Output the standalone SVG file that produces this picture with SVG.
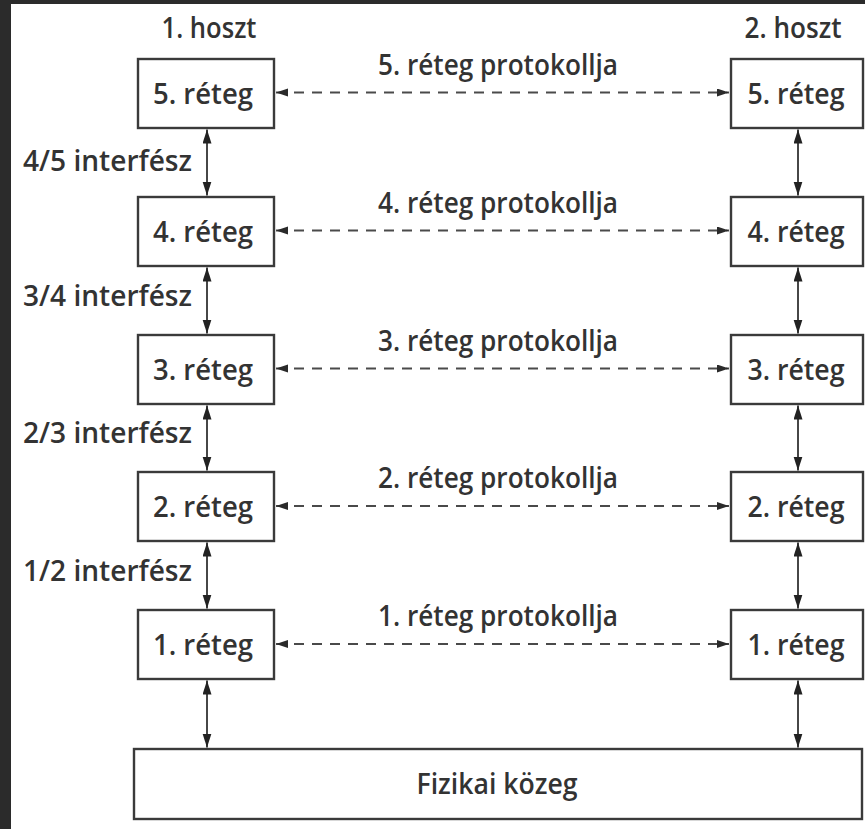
<svg xmlns="http://www.w3.org/2000/svg" width="865" height="829" viewBox="0 0 865 829">
<style>
.bx{fill:#fff;stroke:#3a3a3a;stroke-width:2.4}
.t{font-family:"Open Sans","Noto Sans","Liberation Sans",sans-serif;font-size:28px;font-weight:600;fill:#333}
.m{text-anchor:middle}
.v{stroke:#333;stroke-width:1.8;fill:none}
.d{stroke:#4a4a4a;stroke-width:2.2;stroke-dasharray:10 8;fill:none}
</style>
<defs>
<marker id="av" markerUnits="userSpaceOnUse" markerWidth="15" markerHeight="10" refX="14" refY="4.5" orient="auto-start-reverse">
<path d="M0,0 L14,4.5 L0,9 z" fill="#222"/>
</marker>
<marker id="ad" markerUnits="userSpaceOnUse" markerWidth="13" markerHeight="9" refX="12" refY="4" orient="auto-start-reverse">
<path d="M0,0 L12,4 L0,8 z" fill="#2a2a2a"/>
</marker>
</defs>
<rect x="0" y="0" width="865" height="829" fill="#2b2b2b"/>
<rect x="11" y="4" width="854" height="825" fill="#fff"/>

<g id="labels">
<text class="t m" x="209" y="38" textLength="95" lengthAdjust="spacingAndGlyphs">1. hoszt</text>
<text class="t m" x="793" y="38" textLength="97" lengthAdjust="spacingAndGlyphs">2. hoszt</text>
<text class="t" x="23" y="171" textLength="169" lengthAdjust="spacingAndGlyphs">4/5 interfész</text>
<text class="t" x="23" y="306" textLength="169" lengthAdjust="spacingAndGlyphs">3/4 interfész</text>
<text class="t" x="23" y="443" textLength="169" lengthAdjust="spacingAndGlyphs">2/3 interfész</text>
<text class="t" x="23" y="581" textLength="169" lengthAdjust="spacingAndGlyphs">1/2 interfész</text>
<text class="t m" x="498" y="75" textLength="240" lengthAdjust="spacingAndGlyphs">5. réteg protokollja</text>
<text class="t m" x="498" y="213" textLength="240" lengthAdjust="spacingAndGlyphs">4. réteg protokollja</text>
<text class="t m" x="498" y="351" textLength="240" lengthAdjust="spacingAndGlyphs">3. réteg protokollja</text>
<text class="t m" x="498" y="488" textLength="240" lengthAdjust="spacingAndGlyphs">2. réteg protokollja</text>
<text class="t m" x="498" y="626" textLength="240" lengthAdjust="spacingAndGlyphs">1. réteg protokollja</text>
</g>

<g id="h1-l5"><rect class="bx" x="138" y="59" width="136" height="69"/><text class="t m" x="203" y="104" textLength="100" lengthAdjust="spacingAndGlyphs">5. réteg</text></g>
<g id="h1-l4"><rect class="bx" x="138" y="197" width="136" height="69"/><text class="t m" x="203" y="242" textLength="100" lengthAdjust="spacingAndGlyphs">4. réteg</text></g>
<g id="h1-l3"><rect class="bx" x="138" y="335" width="136" height="69"/><text class="t m" x="203" y="380" textLength="100" lengthAdjust="spacingAndGlyphs">3. réteg</text></g>
<g id="h1-l2"><rect class="bx" x="138" y="472" width="136" height="69"/><text class="t m" x="203" y="517" textLength="100" lengthAdjust="spacingAndGlyphs">2. réteg</text></g>
<g id="h1-l1"><rect class="bx" x="138" y="610" width="136" height="69"/><text class="t m" x="203" y="655" textLength="100" lengthAdjust="spacingAndGlyphs">1. réteg</text></g>

<g id="h2-l5"><rect class="bx" x="731" y="59" width="132" height="69"/><text class="t m" x="796" y="104" textLength="97" lengthAdjust="spacingAndGlyphs">5. réteg</text></g>
<g id="h2-l4"><rect class="bx" x="731" y="197" width="132" height="69"/><text class="t m" x="796" y="242" textLength="97" lengthAdjust="spacingAndGlyphs">4. réteg</text></g>
<g id="h2-l3"><rect class="bx" x="731" y="335" width="132" height="69"/><text class="t m" x="796" y="380" textLength="97" lengthAdjust="spacingAndGlyphs">3. réteg</text></g>
<g id="h2-l2"><rect class="bx" x="731" y="472" width="132" height="69"/><text class="t m" x="796" y="517" textLength="97" lengthAdjust="spacingAndGlyphs">2. réteg</text></g>
<g id="h2-l1"><rect class="bx" x="731" y="610" width="132" height="69"/><text class="t m" x="796" y="655" textLength="97" lengthAdjust="spacingAndGlyphs">1. réteg</text></g>

<g id="medium"><rect class="bx" x="134" y="749" width="728" height="70"/><text class="t m" x="497" y="794" textLength="161" lengthAdjust="spacingAndGlyphs">Fizikai közeg</text></g>

<g id="connectors">
<line class="v" x1="207" y1="129.5" x2="207" y2="195.5" marker-start="url(#av)" marker-end="url(#av)"/>
<line class="v" x1="207" y1="267.5" x2="207" y2="333.5" marker-start="url(#av)" marker-end="url(#av)"/>
<line class="v" x1="207" y1="405.5" x2="207" y2="470.5" marker-start="url(#av)" marker-end="url(#av)"/>
<line class="v" x1="207" y1="542.5" x2="207" y2="608.5" marker-start="url(#av)" marker-end="url(#av)"/>
<line class="v" x1="207" y1="680.5" x2="207" y2="747.5" marker-start="url(#av)" marker-end="url(#av)"/>
<line class="v" x1="798" y1="129.5" x2="798" y2="195.5" marker-start="url(#av)" marker-end="url(#av)"/>
<line class="v" x1="798" y1="267.5" x2="798" y2="333.5" marker-start="url(#av)" marker-end="url(#av)"/>
<line class="v" x1="798" y1="405.5" x2="798" y2="470.5" marker-start="url(#av)" marker-end="url(#av)"/>
<line class="v" x1="798" y1="542.5" x2="798" y2="608.5" marker-start="url(#av)" marker-end="url(#av)"/>
<line class="v" x1="798" y1="680.5" x2="798" y2="747.5" marker-start="url(#av)" marker-end="url(#av)"/>
<line class="d" x1="276" y1="92.5" x2="729" y2="92.5" marker-start="url(#ad)" marker-end="url(#ad)"/>
<line class="d" x1="276" y1="230.5" x2="729" y2="230.5" marker-start="url(#ad)" marker-end="url(#ad)"/>
<line class="d" x1="276" y1="368.5" x2="729" y2="368.5" marker-start="url(#ad)" marker-end="url(#ad)"/>
<line class="d" x1="276" y1="506" x2="729" y2="506" marker-start="url(#ad)" marker-end="url(#ad)"/>
<line class="d" x1="276" y1="644" x2="729" y2="644" marker-start="url(#ad)" marker-end="url(#ad)"/>
</g>
</svg>
